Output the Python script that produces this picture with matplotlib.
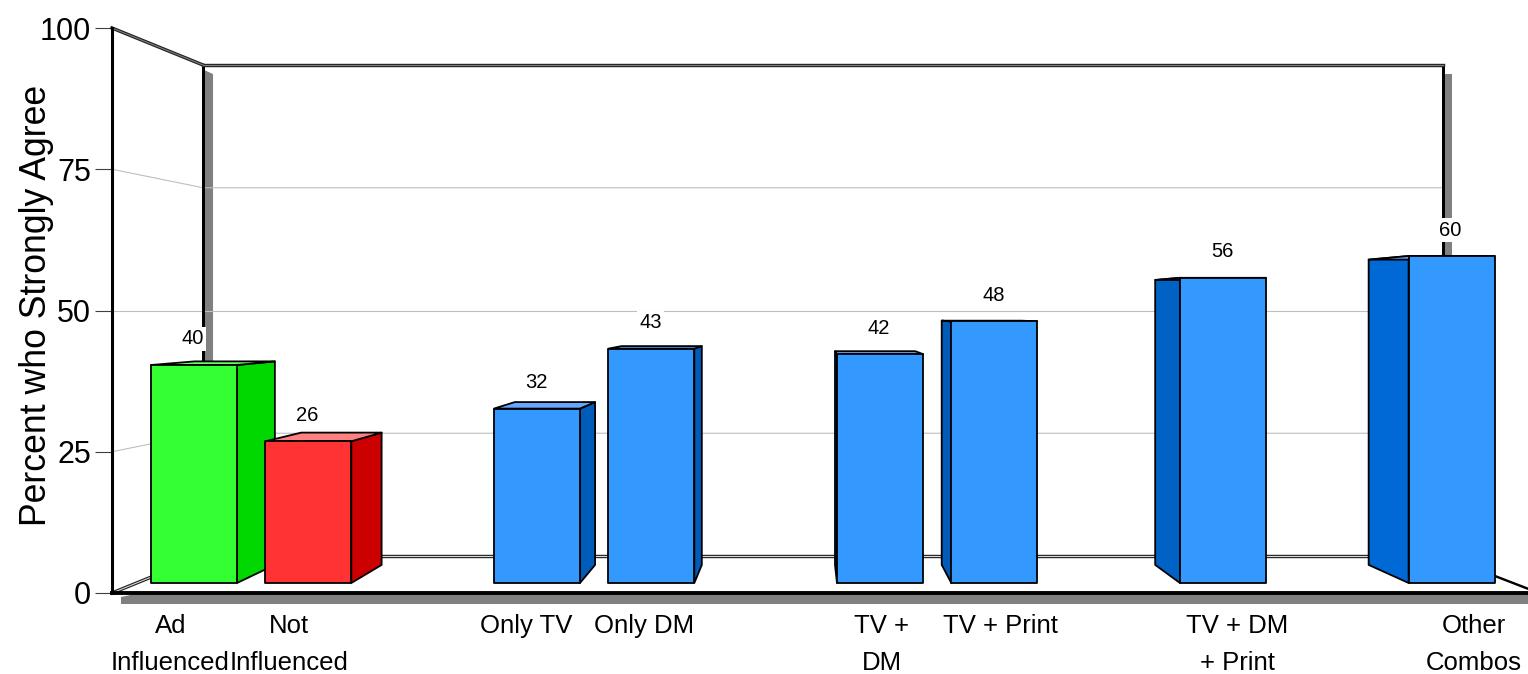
import matplotlib
matplotlib.use('Agg')
import matplotlib.pyplot as plt
from matplotlib.patches import Polygon

plt.rcParams['font.family'] = ['Liberation Sans', 'DejaVu Sans']

categories = ['Ad\nInfluenced', 'Not\nInfluenced', 'Only TV', 'Only DM',
              'TV +\nDM', 'TV + Print', 'TV + DM\n+ Print', 'Other\nCombos']
values = [40, 26, 32, 43, 42, 48, 56, 60]
slots = [0, 1, 3, 4, 6, 7, 9, 11]
front_colors = ['#33FF33', '#FF3333'] + ['#3399FF'] * 6
top_colors = ['#66FF66', '#FF8080'] + ['#66A6FF'] * 6
side_colors = ['#00D800', '#CC0000'] + ['#005CB8', '#005CB8', '#005CB8',
                                        '#005CB8', '#0062C4', '#0069D6']
ytick_values = [0, 25, 50, 75, 100]

# perspective of the box: everything shrinks towards this point
vanish_x = 807
vanish_y = 50
wall_depth = 0.869
bar_front = 0.9646
bar_back = 0.9005
bar_width = 86


def project(x, y, depth):
    return vanish_x + depth * (x - vanish_x), vanish_y + depth * (y - vanish_y)


def flat(x, v):
    # x is already measured on the bars' front plane, only the height shrinks
    return x, vanish_y + bar_front * (v - vanish_y)


def back(x, v):
    rel = bar_back / bar_front
    return vanish_x + rel * (x - vanish_x), vanish_y + bar_back * (v - vanish_y)


fig = plt.figure(figsize=(15.28, 6.74), dpi=100)
ax = fig.add_axes([112 / 1528, 81 / 674, 1416 / 1528, 565 / 674])
ax.set_xlim(112, 1528)
ax.set_ylim(0, 100)
px = 100 / 565  # one pixel in value units

# grey shadows behind the walls and under the floor
lx, ty = project(112, 100, wall_depth)
rx, _ = project(1539, 100, wall_depth)
_, by = project(112, 0, wall_depth)
ax.add_patch(Polygon([(lx + 1, ty - 5 * px), (lx + 10, ty - 9 * px),
                      (lx + 10, by), (lx + 1, by)], fc='#808080', ec='none', zorder=1))
ax.add_patch(Polygon([(rx + 1, ty - 9 * px), (rx + 9, ty - 9 * px),
                      (rx + 9, by), (rx + 1, by)], fc='#808080', ec='none', zorder=1))
ax.add_patch(Polygon([(121, -11 * px), (121, -4 * px), (135, -1 * px), (1528, -1 * px),
                      (1528, -11 * px)], fc='#808080', ec='none', zorder=1, clip_on=False))

# gridlines run along the left wall and across the back wall
for v in ytick_values[1:-1]:
    wx, wy = project(112, v, wall_depth)
    ax.plot([112, wx, rx], [v, wy, wy], color='#BEBEBE', lw=0.8, zorder=2)

# frame of the box
lw_px = 72 / 100
ax.plot([lx, lx], [by, ty], color='black', lw=3 * lw_px, zorder=2.5)
ax.plot([rx, rx], [by, ty], color='black', lw=3 * lw_px, zorder=2.5)
for xs, ys, inner in [([112, lx], [100, ty], '#808080'), ([lx, rx], [ty, ty], '#808080'),
                      ([112, lx], [0, by], '#D8D8D8'), ([lx, rx], [by, by], '#D8D8D8')]:
    ax.plot(xs, ys, color='#222222', lw=3.4 * lw_px, zorder=3, clip_on=False)
    ax.plot(xs, ys, color=inner, lw=1.1 * lw_px, zorder=3.1, clip_on=False)
ax.plot([rx, 1528], [by, project(1528, 0, 0.985)[1]], color='black', lw=2.4 * lw_px, zorder=3)

# bars, front face plus whichever side can be seen from the vanishing point
for i in range(len(values)):
    x0 = 151 + 114.33 * slots[i]
    x1 = x0 + bar_width
    v = values[i]
    top = [flat(x0, v), flat(x1, v), back(x1, v), back(x0, v)]
    if x1 < vanish_x:
        side = [flat(x1, 0), flat(x1, v), back(x1, v), back(x1, 0)]
    else:
        side = [flat(x0, 0), flat(x0, v), back(x0, v), back(x0, 0)]
    front = [flat(x0, 0), flat(x1, 0), flat(x1, v), flat(x0, v)]
    z = 5 + i * 0.1
    for pts, col in [(side, side_colors[i]), (top, top_colors[i]), (front, front_colors[i])]:
        ax.add_patch(Polygon(pts, closed=True, fc=col, ec='black', lw=1.3, joinstyle='round', zorder=z))
    ax.text(x0 + 42, flat(x0, v)[1] + 26 * px, str(v), ha='center', va='center',
            fontsize=14.5, zorder=8,
            bbox=dict(fc='white', ec='none', pad=1.5))

# axes, ticks and labels
for name in ['top', 'right']:
    ax.spines[name].set_visible(False)
ax.patch.set_alpha(0)
ax.spines['left'].set_linewidth(2.2)
ax.spines['bottom'].set_linewidth(2.8)
ax.spines['left'].set_zorder(4)
ax.spines['bottom'].set_zorder(4)
ax.set_yticks(ytick_values)
ax.set_yticklabels([str(v) for v in ytick_values], fontsize=22)
ax.tick_params(axis='y', length=12, width=0.8, color='#404040', pad=3)
ax.set_xticks([170.5 + 118.5 * s for s in slots])
ax.set_xticklabels(categories, fontsize=18.5, linespacing=1.67)
ax.tick_params(axis='x', length=0, pad=15)
ax.set_ylabel('Percent who Strongly Agree', fontsize=25.7, labelpad=0)
ax.yaxis.set_label_coords(-0.0412, 0.509, transform=ax.transAxes)

fig.savefig('out.png', dpi=100)
